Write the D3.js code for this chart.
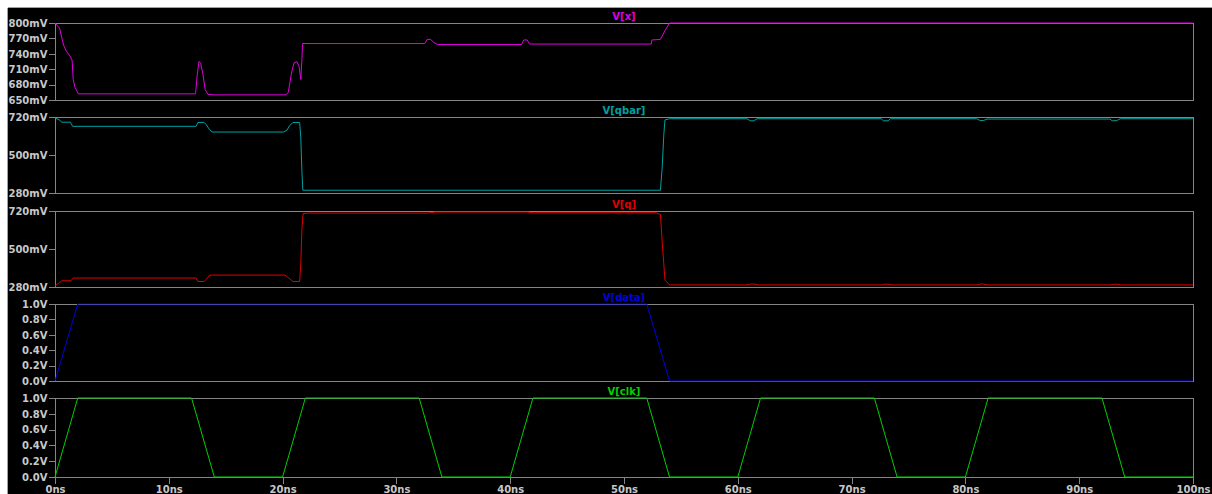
<!DOCTYPE html>
<html>
<head>
<meta charset="utf-8">
<script src="https://cdn.jsdelivr.net/npm/d3@7"></script>
<style>
  html, body { margin: 0; padding: 0; background: #fff; }
  svg { display: block; }
  text { font-family: "DejaVu Sans", sans-serif; font-weight: bold; }
</style>
</head>
<body>
<svg id="chart" width="1212" height="494"></svg>
<script>
// Transient simulation traces: time in ns, voltages in mV (x, qbar, q) or V (data, clk)
const timeTicks = [0, 10, 20, 30, 40, 50, 60, 70, 80, 90, 100];

const vx = [
  [0,800],[0.4,790],[0.75,757],[1.0,745],[1.3,736],[1.5,728],[1.6,690],[1.75,675],[2.05,662],
  [12.35,662],[12.5,700],[12.65,725],[12.8,722],[13.0,700],[13.2,670],[13.45,661],[14.0,660],
  [20.3,660],[20.5,665],[20.8,705],[21.0,722],[21.25,725],[21.45,715],[21.6,690],[21.7,730],[21.75,760],
  [32.5,760],[32.7,768],[33.0,768],[33.3,762],[33.6,758],
  [41.0,758],[41.2,767],[41.5,767],[41.7,759],
  [52.4,759],[52.45,767],[53.2,768],[53.6,785],[54.0,800],[100,800]
];

const vqbar = [
  [0,714],[0.35,705],[0.6,690],[1.35,690],[1.55,666],
  [12.4,666],[12.55,688],[13.1,689],[13.3,675],[13.55,650],[13.8,633],
  [20.1,633],[20.4,645],[20.6,668],[20.9,688],[21.5,688],[21.6,600],[21.7,400],[21.78,296],
  [53.2,296],[53.35,420],[53.5,620],[53.6,703],[54.0,710],
  [60.8,710],[61.1,698],[61.4,698],[61.7,710],
  [72.6,710],[72.8,698],[73.2,698],[73.4,710],
  [81.0,710],[81.3,699],[81.6,700],[81.9,708],
  [92.7,708],[92.9,698],[93.3,699],[93.6,710],[100,710]
];

const vq = [
  [0,288],[0.3,300],[0.6,316],[1.4,316],[1.6,332],
  [12.4,332],[12.55,312],[13.1,312],[13.3,325],[13.6,349],
  [20.2,349],[20.5,335],[20.9,312],[21.5,312],[21.6,420],[21.7,620],[21.8,705],
  [22.2,708],[32.8,708],[33.4,714],[41.5,714],[42.0,710],
  [52.8,710],[53.2,700],[53.4,500],[53.6,320],[54.0,292],
  [60.8,292],[61.1,297],[61.5,297],[61.8,292],
  [72.6,292],[72.9,296],[73.3,296],[73.6,292],
  [81.0,292],[81.3,297],[81.6,297],[81.9,292],
  [92.7,292],[93.0,296],[93.4,296],[93.7,292],[100,292]
];

const vdata = [[0,0],[2,1],[52,1],[54,0],[100,0]];

const vclk = [
  [0,0],[2,1],[12,1],[14,0],[20,0],[22,1],[32,1],[34,0],[40,0],[42,1],
  [52,1],[54,0],[60,0],[62,1],[72,1],[74,0],[80,0],[82,1],[92,1],[94,0],[100,0]
];

const xTicksMv = [650, 680, 710, 740, 770, 800];
const qTicksMv = [280, 500, 720];
const voltTicks = [0, 0.2, 0.4, 0.6, 0.8, 1.0];

const panels = [
  { name: "V[x]",    data: vx,    domain: [650, 800], ticks: xTicksMv, fmt: d => d + "mV", color: "#e000e0", top: 23,  bottom: 100 },
  { name: "V[qbar]", data: vqbar, domain: [280, 720], ticks: qTicksMv, fmt: d => d + "mV", color: "#00a0a0", top: 117, bottom: 193 },
  { name: "V[q]",    data: vq,    domain: [280, 720], ticks: qTicksMv, fmt: d => d + "mV", color: "#e00000", top: 211, bottom: 287 },
  { name: "V[data]", data: vdata, domain: [0, 1],     ticks: voltTicks, fmt: d => d.toFixed(1) + "V", color: "#0000e0", top: 304, bottom: 381 },
  { name: "V[clk]",  data: vclk,  domain: [0, 1],     ticks: voltTicks, fmt: d => d.toFixed(1) + "V", color: "#00d000", top: 398, bottom: 477 }
];

const W = 1212, H = 494;
const left = 55, right = 1193;
const frameColor = "#858585";
const labelColor = "#c8c8c8";

const svg = d3.select("#chart");

// window background with its light border strip
svg.append("rect").attr("width", W).attr("height", H).attr("fill", "#ffffff");
svg.append("rect").attr("x", 8).attr("y", 8).attr("width", W - 8).attr("height", H - 8).attr("fill", "#000000");
svg.append("line").attr("x1", 7.5).attr("x2", W).attr("y1", 7.5).attr("y2", 7.5)
  .attr("stroke", "#a0a0a0").attr("shape-rendering", "crispEdges");
svg.append("line").attr("x1", 7.5).attr("x2", 7.5).attr("y1", 7.5).attr("y2", H)
  .attr("stroke", "#a0a0a0").attr("shape-rendering", "crispEdges");

const x = d3.scaleLinear().domain([0, 100]).range([left, right]);

panels.forEach((p, i) => {
  const y = d3.scaleLinear().domain(p.domain).range([p.bottom, p.top]);
  const g = svg.append("g");

  // frame
  g.append("rect")
    .attr("x", left + 0.5).attr("y", p.top + 0.5)
    .attr("width", right - left).attr("height", p.bottom - p.top)
    .attr("fill", "none").attr("stroke", frameColor)
    .attr("shape-rendering", "crispEdges");

  // left voltage axis
  const yAxis = d3.axisLeft(y).tickValues(p.ticks).tickFormat(p.fmt).tickSize(7).tickPadding(1);
  const ya = g.append("g").attr("transform", `translate(${left + 0.5},0)`).call(yAxis);
  ya.select(".domain").remove();
  ya.selectAll(".tick line").attr("stroke", frameColor).attr("shape-rendering", "crispEdges");
  ya.selectAll(".tick text")
    .attr("fill", labelColor)
    .style("font-size", "10px")
    .style("font-family", "'DejaVu Sans', sans-serif")
    .style("font-weight", "bold");

  // trace title
  g.append("text")
    .attr("x", (left + right) / 2).attr("y", p.top - 3)
    .attr("text-anchor", "middle")
    .attr("fill", p.color)
    .style("font-size", "10px")
    .text(p.name);

  // trace
  const line = d3.line().x(d => x(d[0])).y(d => y(d[1]));
  g.append("path")
    .datum(p.data)
    .attr("d", line)
    .attr("fill", "none")
    .attr("stroke", p.color)
    .attr("stroke-width", 1)
    .attr("stroke-linejoin", "round");

  // time axis under the bottom pane
  if (i === panels.length - 1) {
    const xAxis = d3.axisBottom(x).tickValues(timeTicks).tickFormat(d => d + "ns").tickSize(6).tickPadding(2);
    const xa = g.append("g").attr("transform", `translate(0,${p.bottom + 0.5})`).call(xAxis);
    xa.select(".domain").remove();
    xa.selectAll(".tick line").attr("stroke", frameColor).attr("shape-rendering", "crispEdges");
    xa.selectAll(".tick text")
      .attr("fill", labelColor)
      .style("font-size", "10px")
      .style("font-family", "'DejaVu Sans', sans-serif")
      .style("font-weight", "bold");
  }
});
</script>
</body>
</html>
